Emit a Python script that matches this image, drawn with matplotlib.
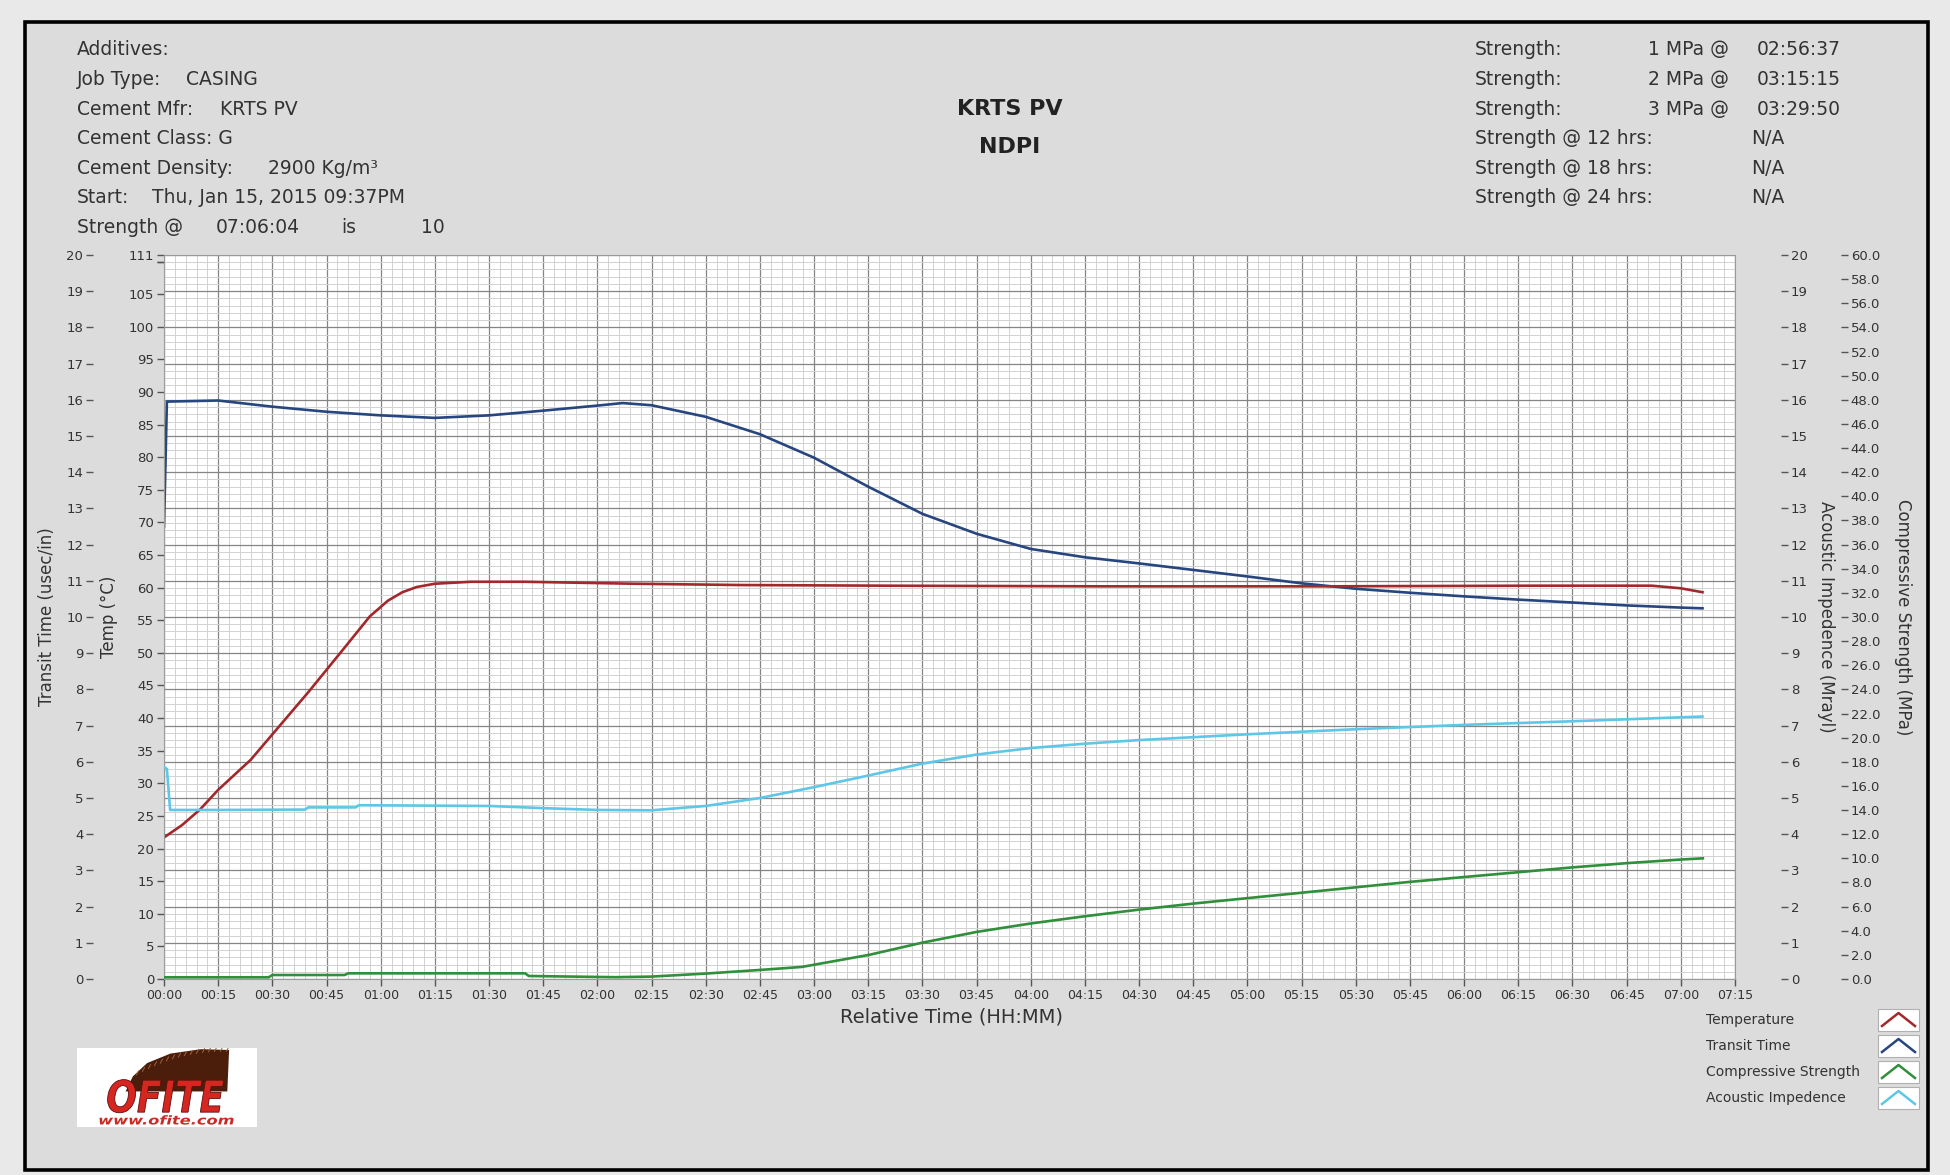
import matplotlib
matplotlib.use("Agg")
import matplotlib.pyplot as plt
from matplotlib.patches import Rectangle, Polygon, PathPatch
from matplotlib.lines import Line2D
from matplotlib.textpath import TextPath
from matplotlib.font_manager import FontProperties
from matplotlib.transforms import Affine2D
from matplotlib.ticker import MultipleLocator, FixedLocator, FuncFormatter

# ---------------------------------------------------------------- data
# elapsed time in minutes since test start
temp_t = [0, 5, 10, 15, 24, 30, 40, 50, 57, 62, 66, 70, 75, 85, 100, 130, 160, 200, 260, 320, 380, 412, 420, 426]
temp_v = [21.7, 23.6, 26.0, 29.0, 33.6, 37.5, 44.0, 50.8, 55.6, 58.0, 59.3, 60.1, 60.6, 60.9, 60.9, 60.6, 60.4, 60.3, 60.2, 60.2, 60.3, 60.3, 59.9, 59.3]

transit_t = [0, 0.4, 0.8, 15, 30, 45, 60, 75, 90, 105, 120, 127, 135, 150, 165, 180, 195, 210, 225, 240, 255, 270, 285, 300, 315, 330, 345, 360, 375, 390, 405, 420, 426]
transit_v = [12.5, 14.2, 15.95, 15.98, 15.81, 15.67, 15.57, 15.5, 15.57, 15.7, 15.84, 15.91, 15.85, 15.53, 15.05, 14.4, 13.6, 12.85, 12.3, 11.88, 11.65, 11.48, 11.3, 11.12, 10.93, 10.78, 10.67, 10.57, 10.48, 10.4, 10.32, 10.26, 10.24]

strength_t = [0, 29, 30, 50, 51, 100, 101, 125, 135, 150, 165, 176.6, 195.25, 209.8, 225, 240, 255, 270, 285, 300, 315, 330, 345, 360, 375, 390, 405, 420, 426.1]
strength_v = [0.14, 0.14, 0.33, 0.33, 0.47, 0.47, 0.25, 0.15, 0.2, 0.45, 0.75, 1.0, 2.0, 3.0, 3.9, 4.6, 5.2, 5.75, 6.25, 6.7, 7.15, 7.6, 8.05, 8.45, 8.85, 9.25, 9.6, 9.9, 10.0]

acoustic_t = [0, 0.8, 1.7, 15, 39, 40, 53, 54, 90, 105, 120, 135, 150, 165, 180, 195, 210, 225, 240, 255, 270, 285, 300, 330, 360, 390, 426]
acoustic_v = [5.86, 5.8, 4.67, 4.67, 4.68, 4.74, 4.74, 4.8, 4.78, 4.72, 4.67, 4.66, 4.78, 5.0, 5.3, 5.62, 5.95, 6.2, 6.38, 6.5, 6.6, 6.68, 6.76, 6.9, 7.02, 7.12, 7.25]

x_ticks = list(range(0, 436, 15))
temp_ticks = list(range(0, 111, 5)) + [111]
transit_ticks = list(range(0, 21))
acoustic_ticks = list(range(0, 21))
strength_ticks = list(range(0, 61, 2))

series_names = ["Temperature", "Transit Time", "Compressive Strength", "Acoustic Impedence"]

header_left = [
    [("Additives:", 77)],
    [("Job Type:", 77), ("CASING", 186)],
    [("Cement Mfr:", 77), ("KRTS PV", 220)],
    [("Cement Class: G", 77)],
    [("Cement Density:", 77), ("2900 Kg/m\u00b3", 268)],
    [("Start:", 77), ("Thu, Jan 15, 2015 09:37PM", 152)],
    [("Strength @", 77), ("07:06:04", 216), ("is", 341), ("10", 421)],
]
header_right = [
    ("Strength:", "1 MPa @", "02:56:37"),
    ("Strength:", "2 MPa @", "03:15:15"),
    ("Strength:", "3 MPa @", "03:29:50"),
    ("Strength @ 12 hrs:", "", "N/A"),
    ("Strength @ 18 hrs:", "", "N/A"),
    ("Strength @ 24 hrs:", "", "N/A"),
]

# ---------------------------------------------------------------- style
C_TEMP = "#a3282c"
C_TRANSIT = "#27457e"
C_STRENGTH = "#2f8f3a"
C_ACOUSTIC = "#5ec6e6"
TXT = "#333333"
TICK = "#555555"

W, H, DPI = 1950, 1175, 100


def fx(px):
    return px / W


def fy(py):
    return 1 - py / H


fig = plt.figure(figsize=(W / DPI, H / DPI), dpi=DPI, facecolor="#e9e9e9")

# report panel
fig.patches.append(Rectangle((fx(25), fy(1170)), (1928 - 25) / W, (1170 - 22) / H,
                             transform=fig.transFigure, facecolor="#dcdcdc",
                             edgecolor="black", linewidth=2.6, zorder=-10))

# plot area geometry (pixels)
L, R, T, B = 164, 1735, 255, 979
pw = R - L
ax = fig.add_axes([fx(L), fy(B), pw / W, (B - T) / H])
ax.set_facecolor("white")
ax.set_xlim(0, 435)
ax.set_ylim(0, 20)

# grid
ax.xaxis.set_major_locator(FixedLocator(x_ticks))
ax.xaxis.set_minor_locator(MultipleLocator(3))
ax.yaxis.set_major_locator(FixedLocator(transit_ticks))
ax.yaxis.set_minor_locator(MultipleLocator(0.2))
ax.grid(which="major", color="#858585", linewidth=0.9)
ax.grid(which="minor", color="#d2d2d2", linewidth=0.7)
ax.set_axisbelow(True)

ax.xaxis.set_major_formatter(FuncFormatter(lambda v, p: f"{int(v) // 60:02d}:{int(v) % 60:02d}"))
ax.tick_params(axis="x", which="major", length=5, width=1, color=TICK, labelsize=9,
               labelcolor=TXT, pad=2)
ax.tick_params(which="minor", length=0)

# transit time axis, offset to the far left
ax.spines["left"].set_position(("axes", -71 / pw))
ax.spines["left"].set_visible(False)
for s in ("top", "right", "bottom"):
    ax.spines[s].set_color("#9a9a9a")
ax.yaxis.set_major_formatter(FuncFormatter(lambda v, p: f"{int(v)}"))
ax.tick_params(axis="y", which="major", length=5, width=1, color=TICK, labelsize=9.5,
               labelcolor=TXT, pad=2)

# temperature axis at the plot edge
ax_t = ax.twinx()
ax_t.yaxis.tick_left()
ax_t.set_ylim(0, 111)
ax_t.yaxis.set_major_locator(FixedLocator(temp_ticks + [110]))
ax_t.yaxis.set_major_formatter(FuncFormatter(lambda v, p: "" if v == 110 else f"{int(v)}"))
ax_t.tick_params(axis="y", length=5, width=1, color=TICK, labelsize=9.5, labelcolor=TXT, pad=2)
for s in ("top", "right", "bottom"):
    ax_t.spines[s].set_visible(False)
ax_t.spines["left"].set_color("#9a9a9a")

# acoustic impedance axis
ax_a = ax.twinx()
ax_a.set_ylim(0, 20)
ax_a.spines["right"].set_position(("axes", 1 + 46 / pw))
for s in ax_a.spines.values():
    s.set_visible(False)
ax_a.yaxis.set_major_locator(FixedLocator(acoustic_ticks))
ax_a.yaxis.set_major_formatter(FuncFormatter(lambda v, p: f"{int(v)}"))
ax_a.tick_params(axis="y", length=5, width=1, color=TICK, labelsize=9.5, labelcolor=TXT, pad=2)

# compressive strength axis
ax_s = ax.twinx()
ax_s.set_ylim(0, 60)
ax_s.spines["right"].set_position(("axes", 1 + 106 / pw))
for s in ax_s.spines.values():
    s.set_visible(False)
ax_s.yaxis.set_major_locator(FixedLocator(strength_ticks))
ax_s.yaxis.set_major_formatter(FuncFormatter(lambda v, p: f"{v:.1f}"))
ax_s.tick_params(axis="y", length=5, width=1, color=TICK, labelsize=9.5, labelcolor=TXT, pad=2)

# curves
lw = 1.9
ax.plot(transit_t, transit_v, color=C_TRANSIT, lw=lw, solid_joinstyle="round")
ax_s.plot(strength_t, strength_v, color=C_STRENGTH, lw=lw)
ax_a.plot(acoustic_t, acoustic_v, color=C_ACOUSTIC, lw=lw)
ax_t.plot(temp_t, temp_v, color=C_TEMP, lw=lw)

# axis titles
mid = (T + B) / 2
fig.text(fx(47), fy(mid), "Transit Time (usec/in)", rotation=90, ha="center", va="center",
         fontsize=12, color=TXT)
fig.text(fx(109), fy(mid), "Temp (\u00b0C)", rotation=90, ha="center", va="center",
         fontsize=12, color=TXT)
fig.text(fx(1826), fy(mid), "Acoustic Impedence (Mrayl)", rotation=270, ha="center",
         va="center", fontsize=12, color=TXT)
fig.text(fx(1903), fy(mid), "Compressive Strength (MPa)", rotation=270, ha="center",
         va="center", fontsize=12, color=TXT)
fig.text(fx(951), fy(1017), "Relative Time (HH:MM)", ha="center", va="center",
         fontsize=14, color=TXT)

# header (baseline aligned rows)
HF = 13.5
row_y = [48, 78, 108, 137, 167, 196, 226]
for parts, yy in zip(header_left, row_y):
    for txt, xx in parts:
        fig.text(fx(xx), fy(yy + 7), txt, ha="left", va="baseline", fontsize=HF, color=TXT)
for (a, b, c), yy in zip(header_right, row_y):
    fig.text(fx(1475), fy(yy + 7), a, ha="left", va="baseline", fontsize=HF, color=TXT)
    if b:
        fig.text(fx(1648), fy(yy + 7), b, ha="left", va="baseline", fontsize=HF, color=TXT)
        fig.text(fx(1757), fy(yy + 7), c, ha="left", va="baseline", fontsize=HF, color=TXT)
    else:
        fig.text(fx(1751), fy(yy + 7), c, ha="left", va="baseline", fontsize=HF, color=TXT)

fig.text(fx(1010), fy(109), "KRTS PV", ha="center", va="center", fontsize=16,
         fontweight="bold", color="#222222")
fig.text(fx(1010), fy(147), "NDPI", ha="center", va="center", fontsize=16,
         fontweight="bold", color="#222222")

# legend
leg_colors = [C_TEMP, C_TRANSIT, C_STRENGTH, C_ACOUSTIC]
for i, (name, col) in enumerate(zip(series_names, leg_colors)):
    yy = 1020 + i * 26
    fig.text(fx(1706), fy(yy), name, ha="left", va="center", fontsize=10, color=TXT)
    bx0, bx1 = 1878, 1919
    by0, by1 = yy + 11, yy - 11
    fig.patches.append(Rectangle((fx(bx0), fy(by0)), (bx1 - bx0) / W, (by0 - by1) / H,
                                 transform=fig.transFigure, facecolor="white",
                                 edgecolor="#b0b0b0", linewidth=0.8))
    fig.lines.append(Line2D([fx(bx0 + 4), fx((bx0 + bx1) / 2), fx(bx1 - 4)],
                            [fy(by0 - 5), fy(by1 + 4), fy(by0 - 5)],
                            transform=fig.transFigure, color=col, linewidth=1.8))

# company logo
lg = fig.add_axes([fx(77), fy(1127), (257 - 77) / W, (1127 - 1048) / H])
lg.set_xlim(0, 1)
lg.set_ylim(0, 1)
lg.set_facecolor("white")
for s in lg.spines.values():
    s.set_visible(False)
lg.set_xticks([])
lg.set_yticks([])
fan = [(0.27, 0.45), (0.31, 0.64), (0.39, 0.81), (0.52, 0.93), (0.69, 0.985),
       (0.845, 0.975), (0.835, 0.45)]
lg.add_patch(Polygon(fan, closed=True, facecolor="#4a1e0b", edgecolor="none"))
for k in range(16):
    f = k / 15
    x0 = 0.33 + 0.50 * f
    y0 = 0.66 + 0.30 * (1 - (1 - f) ** 2.2)
    lg.plot([x0, x0 + 0.012], [y0, y0 + 0.05], color="#a0603c", lw=0.7)


def fitted_text(s, x0, x1, y0, y1, **style):
    prop = FontProperties(family="DejaVu Sans", weight="bold", style="italic")
    tp = TextPath((0, 0), s, size=1, prop=prop)
    bb = tp.get_extents()
    tr = (Affine2D().translate(-bb.x0, -bb.y0)
          .scale((x1 - x0) / bb.width, (y1 - y0) / bb.height)
          .translate(x0, y0))
    lg.add_patch(PathPatch(tr.transform_path(tp), **style))


fitted_text("OFITE", 0.17, 0.815, 0.18, 0.60, facecolor="#d6261f", edgecolor="#5c1010",
            linewidth=0.6)
fitted_text("www.ofite.com", 0.125, 0.87, 0.03, 0.15, facecolor="#cc2a24",
            edgecolor="none")

fig.savefig("out.png", dpi=DPI, facecolor=fig.get_facecolor())
